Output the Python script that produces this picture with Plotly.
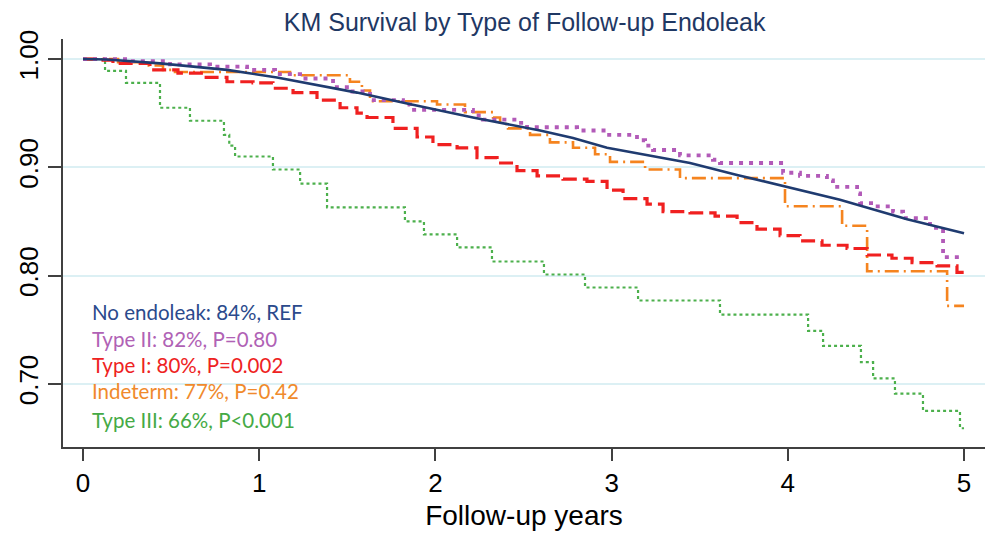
import plotly.graph_objects as go

# ---- data ----
no_t = [0, 0.136, 0.437, 0.817, 1.101, 1.385, 1.555, 1.839, 2.213, 2.594, 2.781, 2.974,
        3.275, 3.445, 3.712, 4.012, 4.296, 4.677, 5.0]
no_s = [1.0, 0.9995, 0.996, 0.990, 0.983, 0.974, 0.969, 0.959, 0.946, 0.934, 0.927, 0.918,
        0.909, 0.904, 0.893, 0.881, 0.870, 0.852, 0.839]

t2_t = [0, 0.267, 0.494, 0.721, 0.931, 1.090, 1.232, 1.419, 1.515, 1.629, 1.816, 1.856,
        2.213, 2.270, 2.463, 2.520, 2.804, 2.974, 3.144, 3.190, 3.235, 3.388, 3.575, 3.615,
        3.973, 4.069, 4.222, 4.256, 4.393, 4.410, 4.484, 4.597, 4.654, 4.807, 4.881, 5.0]
t2_s = [1.0, 0.998, 0.995, 0.993, 0.990, 0.986, 0.982, 0.974, 0.970, 0.962, 0.958, 0.953,
        0.948, 0.944, 0.941, 0.937, 0.934, 0.930, 0.925, 0.920, 0.916, 0.911, 0.907, 0.904,
        0.895, 0.892, 0.888, 0.882, 0.876, 0.867, 0.864, 0.859, 0.853, 0.844, 0.817, 0.817]

t1_t = [0, 0.114, 0.170, 0.380, 0.539, 0.681, 0.817, 0.965, 1.078, 1.192, 1.328, 1.459,
        1.555, 1.612, 1.759, 1.896, 1.986, 2.123, 2.236, 2.350, 2.463, 2.577, 2.724, 2.860,
        2.974, 3.065, 3.201, 3.292, 3.445, 3.587, 3.712, 3.825, 3.956, 4.069, 4.194, 4.336,
        4.450, 4.591, 4.705, 4.847, 4.960, 5.0]
t1_s = [1.0, 0.999, 0.996, 0.990, 0.987, 0.983, 0.979, 0.978, 0.973, 0.969, 0.962, 0.955,
        0.950, 0.946, 0.936, 0.928, 0.921, 0.918, 0.909, 0.904, 0.897, 0.892, 0.889, 0.887,
        0.879, 0.871, 0.866, 0.859, 0.858, 0.855, 0.849, 0.843, 0.837, 0.832, 0.828, 0.825,
        0.819, 0.816, 0.812, 0.809, 0.803, 0.802]

ind_t = [0, 0.199, 0.341, 0.454, 0.522, 1.175, 1.515, 1.583, 1.629, 2.009, 2.168, 2.327,
         2.367, 2.412, 2.537, 2.650, 2.781, 2.906, 2.991, 3.190, 3.388, 3.984, 4.308, 4.450,
         4.904, 5.0]
ind_s = [1.0, 0.997, 0.994, 0.990, 0.988, 0.985, 0.979, 0.971, 0.961, 0.958, 0.951, 0.946,
         0.940, 0.936, 0.930, 0.923, 0.918, 0.912, 0.905, 0.898, 0.890, 0.864, 0.846, 0.804,
         0.772, 0.772]

t3_t = [0, 0.125, 0.244, 0.437, 0.607, 0.80, 0.83, 0.863, 1.078, 1.232, 1.385, 1.827,
        1.935, 2.123, 2.321, 2.616, 2.849, 3.150, 3.615, 4.115, 4.200, 4.415, 4.484, 4.608,
        4.767, 4.977, 5.0]
t3_s = [1.0, 0.989, 0.978, 0.955, 0.943, 0.930, 0.920, 0.910, 0.898, 0.885, 0.863, 0.850,
        0.838, 0.826, 0.813, 0.801, 0.789, 0.777, 0.764, 0.749, 0.735, 0.720, 0.705, 0.691,
        0.675, 0.659, 0.659]

legend_labels = ["No endoleak: 84%, REF", "Type II: 82%, P=0.80", "Type I: 80%, P=0.002",
                 "Indeterm: 77%, P=0.42", "Type III: 66%, P<0.001"]
legend_colors = ["#2b4a8c", "#b062b5", "#ee2222", "#f08a2c", "#45aa45"]

x_ticks = [0, 1, 2, 3, 4, 5]
y_ticks = [0.70, 0.80, 0.90, 1.00]
y_tick_labels = ["0.70", "0.80", "0.90", "1.00"]

fig = go.Figure()
fig.add_trace(go.Scatter(x=t3_t, y=t3_s, mode="lines", line_shape="hv",
                         line=dict(color="#4cb04c", width=2.2, dash="dot")))
fig.add_trace(go.Scatter(x=ind_t, y=ind_s, mode="lines", line_shape="hv",
                         line=dict(color="#f5841f", width=2.6, dash="14px,5px,2px,5px")))
fig.add_trace(go.Scatter(x=t1_t, y=t1_s, mode="lines", line_shape="hv",
                         line=dict(color="#f02020", width=3.2, dash="14px,6px")))
fig.add_trace(go.Scatter(x=t2_t, y=t2_s, mode="lines", line_shape="hv",
                         line=dict(color="#b25ab8", width=3.8, dash="4px,6px")))
fig.add_trace(go.Scatter(x=no_t, y=no_s, mode="lines",
                         line=dict(color="#1f3b70", width=2.6)))

ys = [0.766, 0.741, 0.717, 0.693, 0.667]
for lab, col, yy in zip(legend_labels, legend_colors, ys):
    fig.add_annotation(x=0.04, y=yy, xref="x", yref="y", text=lab, showarrow=False,
                       xanchor="left", yanchor="middle",
                       font=dict(family="Lato", size=20.5, color=col))

fig.update_layout(
    width=988, height=537,
    margin=dict(l=63, r=3, t=39, b=90),
    paper_bgcolor="white", plot_bgcolor="white",
    showlegend=False,
    title=dict(text="KM Survival by Type of Follow-up Endoleak", x=0.531, xanchor="center",
               y=0.958, yanchor="middle",
               font=dict(family="Liberation Sans", size=25, color="#1f3864")),
    xaxis=dict(range=[-0.1135, 5.119], tickvals=x_ticks, ticks="outside", ticklen=12,
               tickwidth=2, tickcolor="#404040", showline=True, linecolor="#404040",
               linewidth=2, showgrid=False, zeroline=False,
               tickfont=dict(family="Liberation Sans", size=26, color="black"),
               title=dict(text="Follow-up years", standoff=8,
                          font=dict(family="Liberation Sans", size=28, color="black"))),
    yaxis=dict(range=[0.6417, 1.0185], tickvals=y_ticks, ticktext=y_tick_labels,
               ticks="outside", ticklen=13, tickwidth=2, tickcolor="#404040",
               showline=True, linecolor="#404040", linewidth=2,
               showgrid=True, gridcolor="#dcf0f4", gridwidth=1.5, zeroline=False,
               tickangle=-90,
               tickfont=dict(family="Liberation Sans", size=26, color="black")),
)

fig.write_html("out.html")
